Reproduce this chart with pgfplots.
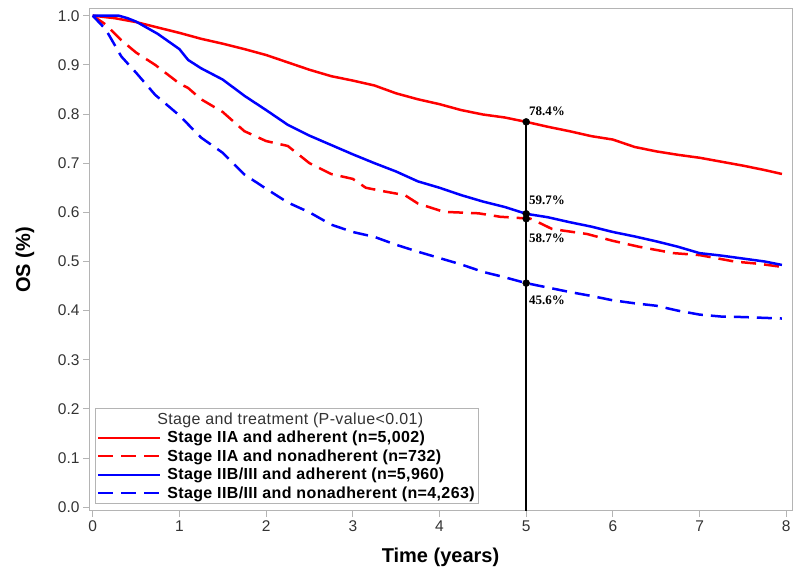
\documentclass[border=0pt]{standalone}
\usepackage{fontspec}
\setmainfont{Liberation Sans}
\newfontfamily\serifb{Liberation Serif}
\newfontfamily\legfont[LetterSpace=2.3]{Liberation Sans}
\usepackage{pgfplots}
\pgfplotsset{compat=1.18}
\definecolor{axgray}{RGB}{180,180,180}
\definecolor{txtgray}{RGB}{51,51,51}
\definecolor{kmred}{RGB}{255,0,0}
\definecolor{kmblue}{RGB}{0,0,255}
\begin{document}
\begin{tikzpicture}
\path[use as bounding box] (0,0) rectangle (800bp,580bp);
\begin{axis}[
  at={(89bp,69bp)}, anchor=south west,
  scale only axis, width=703bp, height=502bp,
  xmin=-0.043, xmax=8.066, ymin=-0.0075, ymax=1.0136,
  xtick={0,1,...,8}, ytick={0,0.1,...,1.0},
  yticklabel style={/pgf/number format/.cd,fixed,fixed zerofill,precision=1},
  /pgf/number format/assume math mode=true,
  tick label style={font=\fontsize{15.5bp}{18bp}\selectfont, text=txtgray},
  axis line style={axgray, line width=1bp},
  tick style={axgray, line width=1bp},
  tick align=outside, major tick length=6bp,
  xtick pos=bottom, ytick pos=left,
  xlabel={Time (years)}, ylabel={OS (\%)},
  label style={font=\fontsize{20bp}{23bp}\selectfont\bfseries},
  xlabel style={at={(axis description cs:0.5,-0.092)}, anchor=center},
  ylabel style={at={(axis description cs:-0.091,0.5)}, anchor=center},
  legend style={at={(axis description cs:0.0085,0.014)}, anchor=south west,
    draw=axgray, line width=0.8bp, fill=white,
    font=\legfont\fontsize{16bp}{19bp}\selectfont\bfseries,
    row sep=1.4bp, column sep=4bp, inner sep=2bp},
  legend cell align=left,
  legend image code/.code={\draw[#1,line cap=butt,line width=2bp] (0bp,0bp) -- (62bp,0bp);},
]
\addlegendimage{empty legend}
\addlegendentry{\mdseries\color{txtgray}\hspace{-10bp}Stage and treatment (P-value<0.01)}

\addplot[kmred, line width=2.5bp] coordinates {
(0,1.0)(0.25,0.995)(0.5,0.987)(0.75,0.976)(1.0,0.965)(1.25,0.953)(1.5,0.943)(1.75,0.932)
(2.0,0.920)(2.25,0.905)(2.5,0.890)(2.75,0.877)(3.0,0.868)(3.25,0.858)(3.5,0.842)(3.75,0.830)
(4.0,0.820)(4.25,0.808)(4.5,0.799)(4.75,0.793)(5.0,0.784)(5.25,0.774)(5.5,0.765)(5.75,0.755)
(6.0,0.748)(6.25,0.733)(6.5,0.724)(6.75,0.717)(7.0,0.711)(7.25,0.703)(7.5,0.695)(7.75,0.686)(7.95,0.678)};
\addlegendentry{Stage IIA and adherent (n=5,002)}

\addplot[kmred, line width=2.5bp, dash pattern=on 15bp off 8bp] coordinates {
(0,1.0)(0.15,0.982)(0.33,0.950)(0.5,0.925)(0.72,0.900)(1.0,0.862)(1.1,0.853)(1.25,0.830)
(1.5,0.804)(1.75,0.765)(2.0,0.745)(2.25,0.735)(2.5,0.700)(2.75,0.678)(3.0,0.668)(3.15,0.650)
(3.35,0.643)(3.6,0.635)(3.75,0.618)(4.05,0.601)(4.45,0.598)(4.7,0.591)(5.05,0.587)(5.16,0.578)
(5.3,0.566)(5.7,0.556)(6.0,0.542)(6.3,0.530)(6.7,0.517)(7.0,0.513)(7.4,0.500)(7.7,0.495)(7.95,0.489)};
\addlegendentry{Stage IIA and nonadherent (n=732)}

\addplot[kmblue, line width=2.5bp] coordinates {
(0,1.0)(0.3,1.0)(0.4,0.995)(0.5,0.988)(0.75,0.963)(1.0,0.932)(1.1,0.910)(1.25,0.893)(1.5,0.870)
(1.75,0.837)(2.0,0.808)(2.25,0.778)(2.5,0.756)(2.75,0.737)(3.0,0.718)(3.25,0.700)(3.5,0.683)
(3.75,0.663)(4.0,0.650)(4.25,0.635)(4.5,0.622)(4.75,0.611)(5.0,0.597)(5.25,0.590)(5.5,0.580)
(5.75,0.571)(6.0,0.560)(6.25,0.551)(6.5,0.541)(6.75,0.530)(7.0,0.517)(7.25,0.512)(7.5,0.506)(7.75,0.500)(7.95,0.493)};
\addlegendentry{Stage IIB/III and adherent (n=5,960)}

\addplot[kmblue, line width=2.5bp, dash pattern=on 15bp off 8bp] coordinates {
(0,1.0)(0.15,0.972)(0.33,0.917)(0.5,0.884)(0.72,0.839)(1.0,0.797)(1.25,0.752)(1.5,0.721)
(1.75,0.677)(2.0,0.648)(2.25,0.620)(2.5,0.600)(2.75,0.575)(3.0,0.560)(3.25,0.550)(3.5,0.534)
(3.75,0.520)(4.0,0.507)(4.25,0.494)(4.5,0.479)(4.75,0.468)(5.0,0.456)(5.25,0.447)(5.5,0.438)
(5.75,0.430)(6.0,0.421)(6.25,0.415)(6.5,0.410)(6.75,0.400)(7.0,0.392)(7.25,0.388)(7.5,0.387)(7.95,0.384)};
\addlegendentry{Stage IIB/III and nonadherent (n=4,263)}

\addplot[black, line width=2bp, forget plot] coordinates {(5,-0.02)(5,0.784)};
\addplot[only marks, mark=*, mark size=3.5bp, black, forget plot] coordinates {(5,0.784)(5,0.597)(5,0.587)(5,0.456)};

\begin{scope}[every node/.style={font=\serifb\fontsize{13bp}{15bp}\selectfont\bfseries, anchor=west, inner sep=0pt}]
\node at (axis cs:5.03,0.784) [yshift=11bp] {78.4\%};
\node at (axis cs:5.03,0.597) [yshift=14bp] {59.7\%};
\node at (axis cs:5.03,0.587) [yshift=-20bp] {58.7\%};
\node at (axis cs:5.03,0.456) [yshift=-17bp] {45.6\%};
\end{scope}
\end{axis}
\end{tikzpicture}
\end{document}
